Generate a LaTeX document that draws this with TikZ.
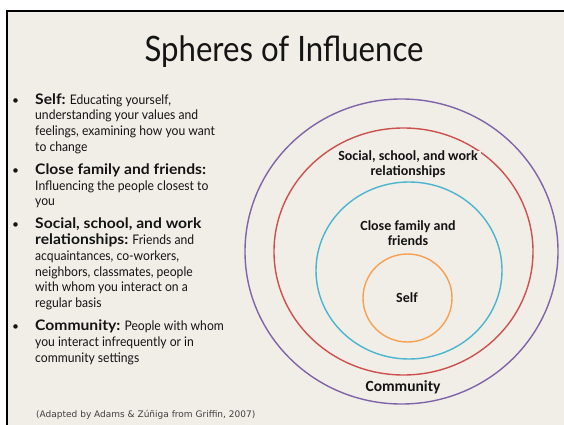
\documentclass[tikz,border=0pt]{standalone}
\usepackage{fontspec}
\setmainfont{Lato}
\newfontfamily\labelfont{Carlito}
\newfontfamily\notefont{DejaVu Sans}
\newfontfamily\titlefont[FakeStretch=0.89]{Lato}
\newfontfamily\bodyfont[FakeStretch=0.92]{Lato}
\newfontfamily\widebold[FakeStretch=1.08]{Lato}
\newcommand{\hd}[1]{{\widebold\bfseries\fontsize{14.5}{15.7}\selectfont #1}}
\definecolor{bgc}{RGB}{241,238,232}
\definecolor{txt}{RGB}{20,20,20}
\definecolor{cpurple}{RGB}{128,100,168}
\definecolor{cred}{RGB}{204,80,77}
\definecolor{ccyan}{RGB}{75,180,206}
\definecolor{corange}{RGB}{247,160,80}
\begin{document}
\begin{tikzpicture}[x=1pt,y=-1pt,
  ring/.style={line width=1.4pt},
  line/.style={anchor=base west,inner sep=0pt,text=txt,font=\bodyfont\fontsize{13.2}{15.7}\selectfont},
  bul/.style={anchor=base west,inner sep=0pt,text=txt,font=\fontsize{12}{14}\selectfont},
  lab/.style={inner sep=1pt,align=center,text=txt,font=\labelfont\bfseries\fontsize{14}{15}\selectfont}]
\useasboundingbox (0,0) rectangle (564,425);
\fill[white] (0,0) rectangle (564,425);
\fill[black] (6,10) rectangle (564,425);
\fill[bgc] (8,12) rectangle (564,425);
% title
\node[text=txt,font=\titlefont\fontsize{35}{40}\selectfont,anchor=base] (title) at (284,62) {Spheres of Influence};
% circles
\draw[ring,cpurple] (401.5,251.5) ellipse [x radius=156.5,y radius=152.5];
\draw[ring,cred] (403.5,251.5) ellipse [x radius=129.5,y radius=123.5];
\draw[ring,ccyan] (409,270.5) ellipse [x radius=93,y radius=88.5];
\draw[ring,corange] (407.5,298) ellipse [x radius=44.5,y radius=44];
\node[lab,fill=bgc,inner xsep=3pt,inner ysep=0pt] (lsocial) at (408,164.5) {Social, school, and work\\relationships};
\node[lab] (lclose) at (408,233) {Close family and\\friends};
\node[lab] (lself) at (407,298) {Self};
\node[lab,font=\labelfont\bfseries\fontsize{15.5}{17}\selectfont] (lcomm) at (403,387) {Community};
% left list
\node[bul] (b1) at (12,104) {\textbullet};
\node[line] (t1a) at (35,104) {\hd{Self:} Educating yourself,};
\node[line] (t1b) at (35,119.7) {understanding your values and};
\node[line] (t1c) at (35,135.4) {feelings, examining how you want};
\node[line] (t1d) at (35,151.1) {to change};
\node[bul] (b2) at (12,174.3) {\textbullet};
\node[line] (t2a) at (35,174.3) {\hd{Close family and friends:}};
\node[line] (t2b) at (35,190) {Influencing the people closest to};
\node[line] (t2c) at (35,205.7) {you};
\node[bul] (b3) at (12,228.9) {\textbullet};
\node[line] (t3a) at (35,228.9) {\hd{Social, school, and work}};
\node[line] (t3b) at (35,244.6) {\hd{relationships:} Friends and};
\node[line] (t3c) at (35,260.3) {acquaintances, co-workers,};
\node[line] (t3d) at (35,276) {neighbors, classmates, people};
\node[line] (t3e) at (35,291.7) {with whom you interact on a};
\node[line] (t3f) at (35,307.4) {regular basis};
\node[bul] (b4) at (12,330.6) {\textbullet};
\node[line] (t4a) at (35,330.6) {\hd{Community:} People with whom};
\node[line] (t4b) at (35,346.3) {you interact infrequently or in};
\node[line] (t4c) at (35,362) {community settings};
% footnote
\node[anchor=base west,inner sep=0pt,text=black!75,font=\notefont\fontsize{9}{10}\selectfont] (note) at (36,417) {(Adapted by Adams \& Zúñiga from Griffin, 2007)};
\end{tikzpicture}
\end{document}
